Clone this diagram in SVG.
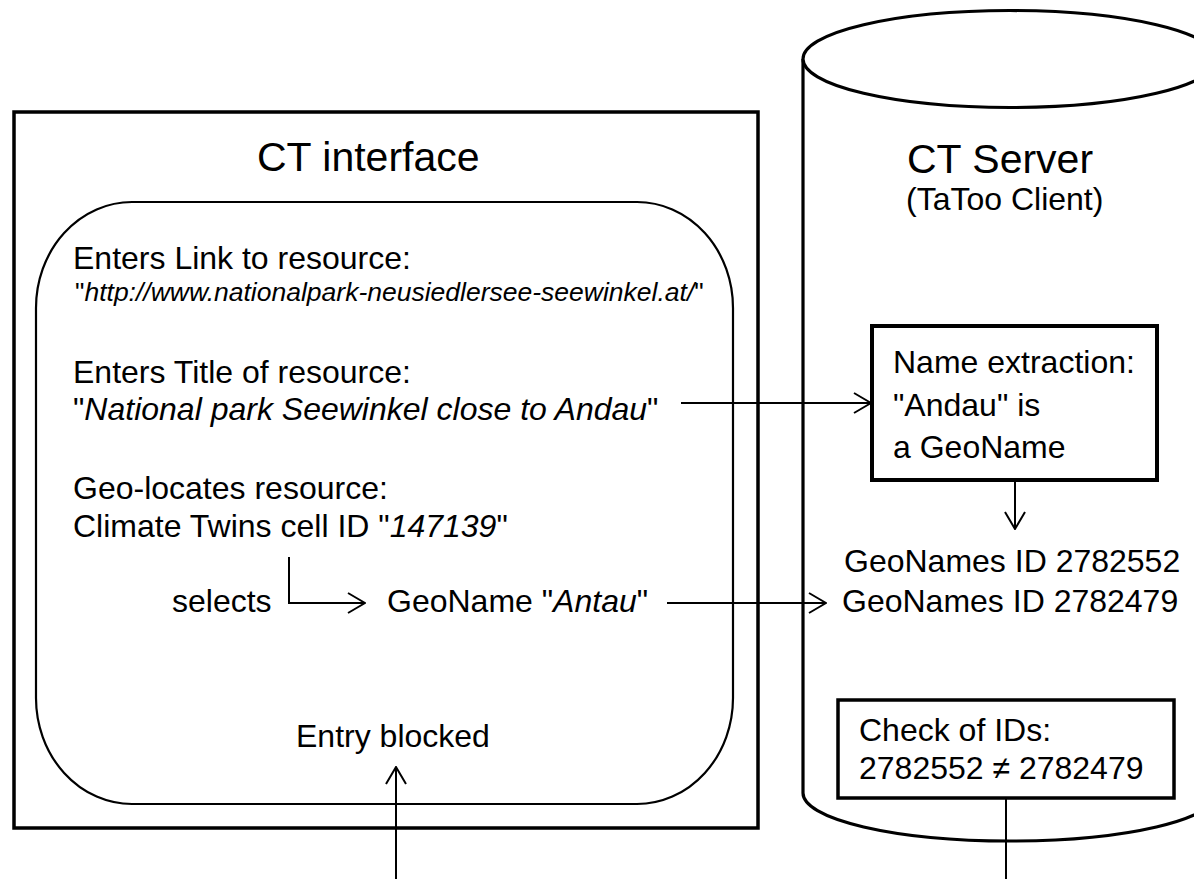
<svg xmlns="http://www.w3.org/2000/svg" width="1194" height="879" viewBox="0 0 1194 879">
<style>
text{font-family:"Liberation Sans",Arial,sans-serif;fill:#000}
.t{font-size:41px}
.b{font-size:32px}
.u{font-size:26.5px}
.i{font-style:italic}
.conn{stroke:#000;stroke-width:2;fill:none}
.arr{marker-end:url(#ah)}
</style>
<defs>
<marker id="ah" markerUnits="userSpaceOnUse" viewBox="0 0 20 24" markerWidth="20" markerHeight="24" refX="19" refY="12" orient="auto">
<path d="M2,2 L19,12 L2,22" fill="none" stroke="#000" stroke-width="2"/>
</marker>
</defs>
<rect width="1194" height="879" fill="#fff"/>
<g id="ct-interface">
<rect x="14" y="112" width="744" height="716" fill="#fff" stroke="#000" stroke-width="3.5"/>
<text class="t" x="257" y="171">CT interface</text>
</g>
<g id="ct-interface-panel">
<rect x="36" y="202" width="697" height="602" rx="96" ry="106" fill="none" stroke="#000" stroke-width="2.2"/>
<text class="b" x="73" y="269">Enters Link to resource:</text>
<text class="u" x="75" y="301">"<tspan class="i">http://www.nationalpark-neusiedlersee-seewinkel.at/</tspan>"</text>
<text class="b" x="73" y="383">Enters Title of resource:</text>
<text class="b" x="73" y="420">"<tspan class="i">National park Seewinkel close to Andau</tspan>"</text>
<text class="b" x="73" y="499">Geo-locates resource:</text>
<text class="b" x="73" y="537">Climate Twins cell ID "<tspan class="i">147139</tspan>"</text>
<text class="b" x="172" y="612">selects</text>
<text class="b" x="387" y="612">GeoName "<tspan class="i">Antau</tspan>"</text>
<text class="b" x="296" y="747">Entry blocked</text>
</g>
<g id="ct-server">
<path d="M803,59 L803,793 A207,48 0 0 0 1217,793 L1217,59" fill="#fff" stroke="#000" stroke-width="3.2"/>
<ellipse cx="1010" cy="59" rx="207" ry="48.5" fill="#fff" stroke="#000" stroke-width="3.2"/>
<text class="t" x="907" y="173">CT Server</text>
<text class="b" x="906" y="210">(TaToo Client)</text>
<text class="b" x="844" y="572">GeoNames ID 2782552</text>
<text class="b" x="842" y="612">GeoNames ID 2782479</text>
</g>
<g id="name-extraction">
<rect x="872" y="326" width="285" height="154" fill="#fff" stroke="#000" stroke-width="4"/>
<text class="b" x="893" y="373">Name extraction:</text>
<text class="b" x="893" y="416">"Andau" is</text>
<text class="b" x="893" y="458">a GeoName</text>
</g>
<g id="check-ids">
<rect x="838" y="700" width="336" height="98" fill="#fff" stroke="#000" stroke-width="3.5"/>
<text class="b" x="859" y="741">Check of IDs:</text>
<text class="b" x="859" y="779">2782552 ≠ 2782479</text>
</g>
<g id="connectors">
<path class="conn arr" d="M681,403 L871,403"/>
<path class="conn arr" d="M1015,481 L1015,529"/>
<path class="conn arr" d="M289,557 L289,603 L365,603"/>
<path class="conn arr" d="M667,603 L826,603"/>
<path class="conn arr" d="M396,879 L396,767"/>
<path class="conn" d="M1006,799 L1006,879"/>
</g>
</svg>
